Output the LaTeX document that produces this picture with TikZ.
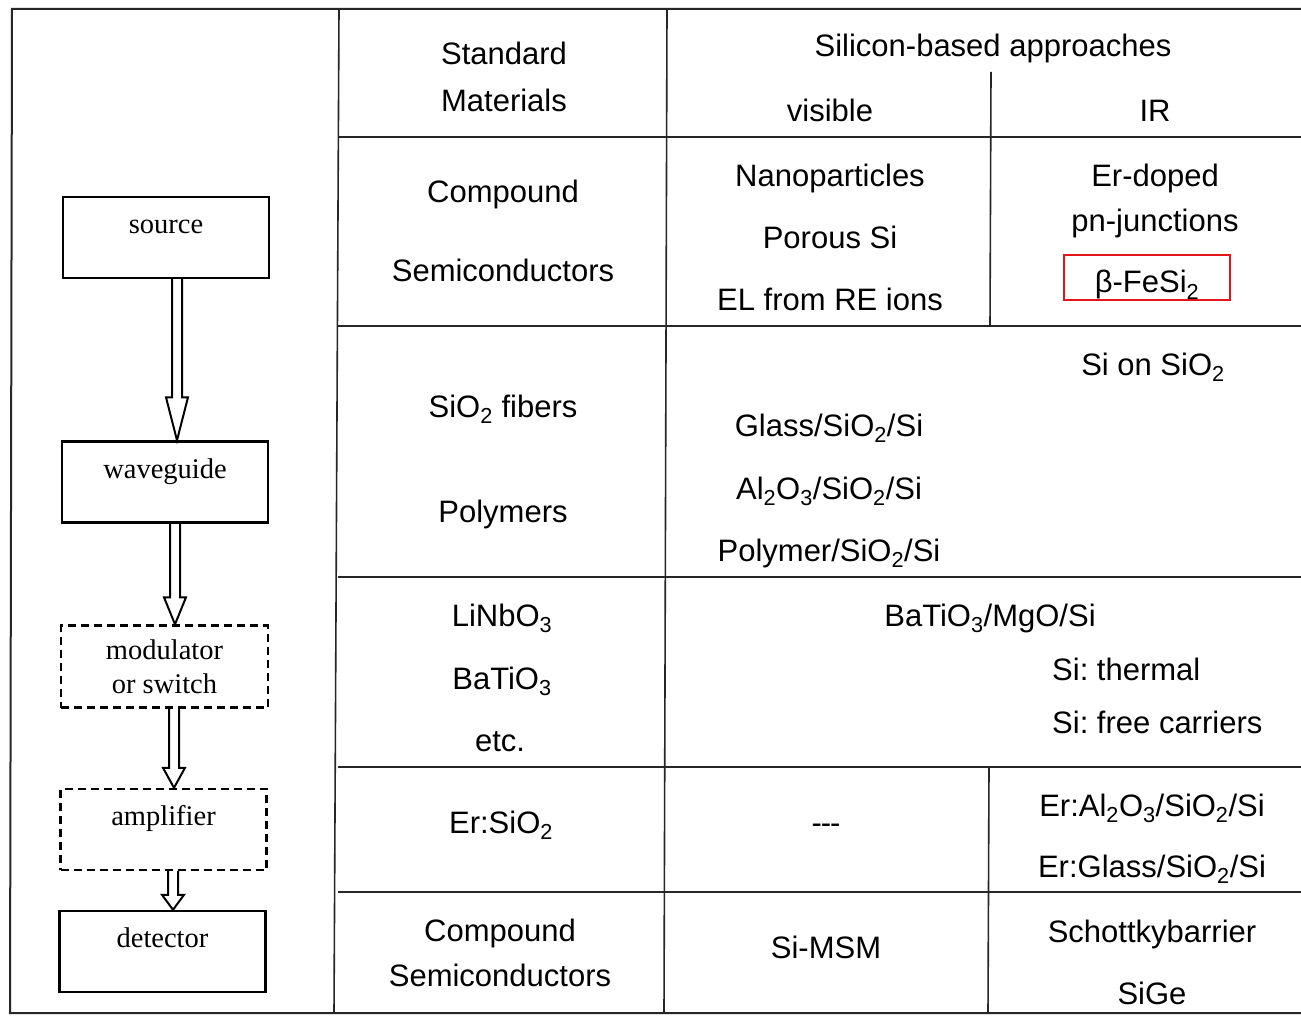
\documentclass[tikz,border=0pt]{standalone}
\usepackage{fontspec}
\setmainfont{Liberation Sans}
\newfontfamily\boxserif{Liberation Serif}
\usetikzlibrary{calc}
\frenchspacing
\definecolor{hlred}{RGB}{228,20,24}
\tikzset{
  x=1pt, y=-1pt,
  cell/.style={anchor=base, inner sep=0pt, font=\fontsize{31}{37}\selectfont},
  cellw/.style={cell, anchor=base west},
  rule/.style={line width=1.6pt, black!85},
  frame/.style={line width=2pt, black!85},
  blockbox/.style={draw, line width=2.4pt, minimum width=206pt, minimum height=81pt,
     inner sep=0pt, font=\boxserif\fontsize{28.5}{34}\selectfont, align=center},
  solidbox/.style={blockbox, text height=12pt, text depth=20pt},
  dashbox/.style={blockbox, dash pattern=on 8pt off 5pt},
  arrline/.style={line width=2pt, line join=miter}
}
\newcommand{\harrow}[4]{%
  \path ($(#1.south)+(#3,0)$) coordinate (hs) (hs |- #2.north) coordinate (ht);
  \draw[arrline] ($(hs)+(-5,0)$) -- ($(ht)+(-5,-#4)$) -- ($(ht)+(-11,-#4)$) -- (ht)
     -- ($(ht)+(11,-#4)$) -- ($(ht)+(5,-#4)$) -- ($(hs)+(5,0)$);
}
\begin{document}
\begin{tikzpicture}
\useasboundingbox (0,0) rectangle (1301,1016);
\fill[white] (0,0) rectangle (1301,1016);

% frame and grid
\draw[frame] (1301,9) -- (12,9) -- (10,1013) -- (1301,1013);
\draw[rule] (339,9) -- (334,1013);
\draw[rule] (667,9) -- (664,1013);
\draw[rule] (991,72) -- (990,326);
\draw[rule] (989,767) -- (988,1013);
\foreach \yy in {137,326,577,767,892} \draw[rule] (338,\yy) -- (1301,\yy);

% block diagram
\node[solidbox] (src) at (166,237.5) {source};
\node[solidbox] (wg) at (165,482) {waveguide};
\node[dashbox, minimum width=207pt, minimum height=82pt] (mod) at (164.5,666.5) {modulator\\or switch};
\node[dashbox, text height=12pt, text depth=20pt] (amp) at (163.5,829.5) {amplifier};
\node[solidbox] (det) at (162.5,951.5) {detector};
\harrow{src}{wg}{11}{43}
\harrow{wg}{mod}{10}{27}
\harrow{mod}{amp}{9.5}{20}
\harrow{amp}{det}{9.5}{15}

% header
\node[cell] (h1) at (504,65) {Standard};
\node[cell] (h2) at (504,112) {Materials};
\node[cell] (h3) at (993,57) {Silicon-based approaches};
\node[cell] (h4) at (830,122) {visible};
\node[cell] (h5) at (1155,122) {IR};

% row 1
\node[cell] (a1) at (503,203) {Compound};
\node[cell] (a2) at (503,282) {Semiconductors};
\node[cell] (a3) at (830,187) {Nanoparticles};
\node[cell] (a4) at (830,249) {Porous Si};
\node[cell] (a5) at (830,311) {EL from RE ions};
\node[cell] (a6) at (1155,187) {Er-doped};
\node[cell] (a7) at (1155,232) {pn-junctions};
\node[cell, anchor=center, draw=hlred, line width=2pt, minimum width=166pt, minimum height=45pt,
      text height=31pt, text depth=0pt] (a8) at (1147,277.5) {β-FeSi\textsubscript{2}};

% row 2
\node[cell] (b1) at (503,417) {SiO\textsubscript{2} fibers};
\node[cell] (b2) at (503,522) {Polymers};
\node[cell] (b3) at (1153,375) {Si on SiO\textsubscript{2}};
\node[cell] (b4) at (829,436) {Glass/SiO\textsubscript{2}/Si};
\node[cell] (b5) at (829,499) {Al\textsubscript{2}O\textsubscript{3}/SiO\textsubscript{2}/Si};
\node[cell] (b6) at (829,561) {Polymer/SiO\textsubscript{2}/Si};

% row 3
\node[cell] (c1) at (502,626) {LiNbO\textsubscript{3}};
\node[cell] (c2) at (502,689) {BaTiO\textsubscript{3}};
\node[cell] (c3) at (500,751) {etc.};
\node[cell] (c4) at (990,626) {BaTiO\textsubscript{3}/MgO/Si};
\node[cellw] (c5) at (1052,680) {Si: thermal};
\node[cellw] (c6) at (1052,733) {Si: free carriers};

% row 4
\node[cell] (d1) at (501,833) {Er:SiO\textsubscript{2}};
\node[cell] (d2) at (826,833) {-\kern-1pt-\kern-1pt-};
\node[cell] (d3) at (1152,816) {Er:Al\textsubscript{2}O\textsubscript{3}/SiO\textsubscript{2}/Si};
\node[cell] (d4) at (1152,877) {Er:Glass/SiO\textsubscript{2}/Si};

% row 5
\node[cell] (e1) at (500,941) {Compound};
\node[cell] (e2) at (500,986) {Semiconductors};
\node[cell] (e3) at (826,958) {Si-MSM};
\node[cell] (e4) at (1152,942) {Schottkybarrier};
\node[cell] (e5) at (1152,1004) {SiGe};
\end{tikzpicture}
\end{document}
